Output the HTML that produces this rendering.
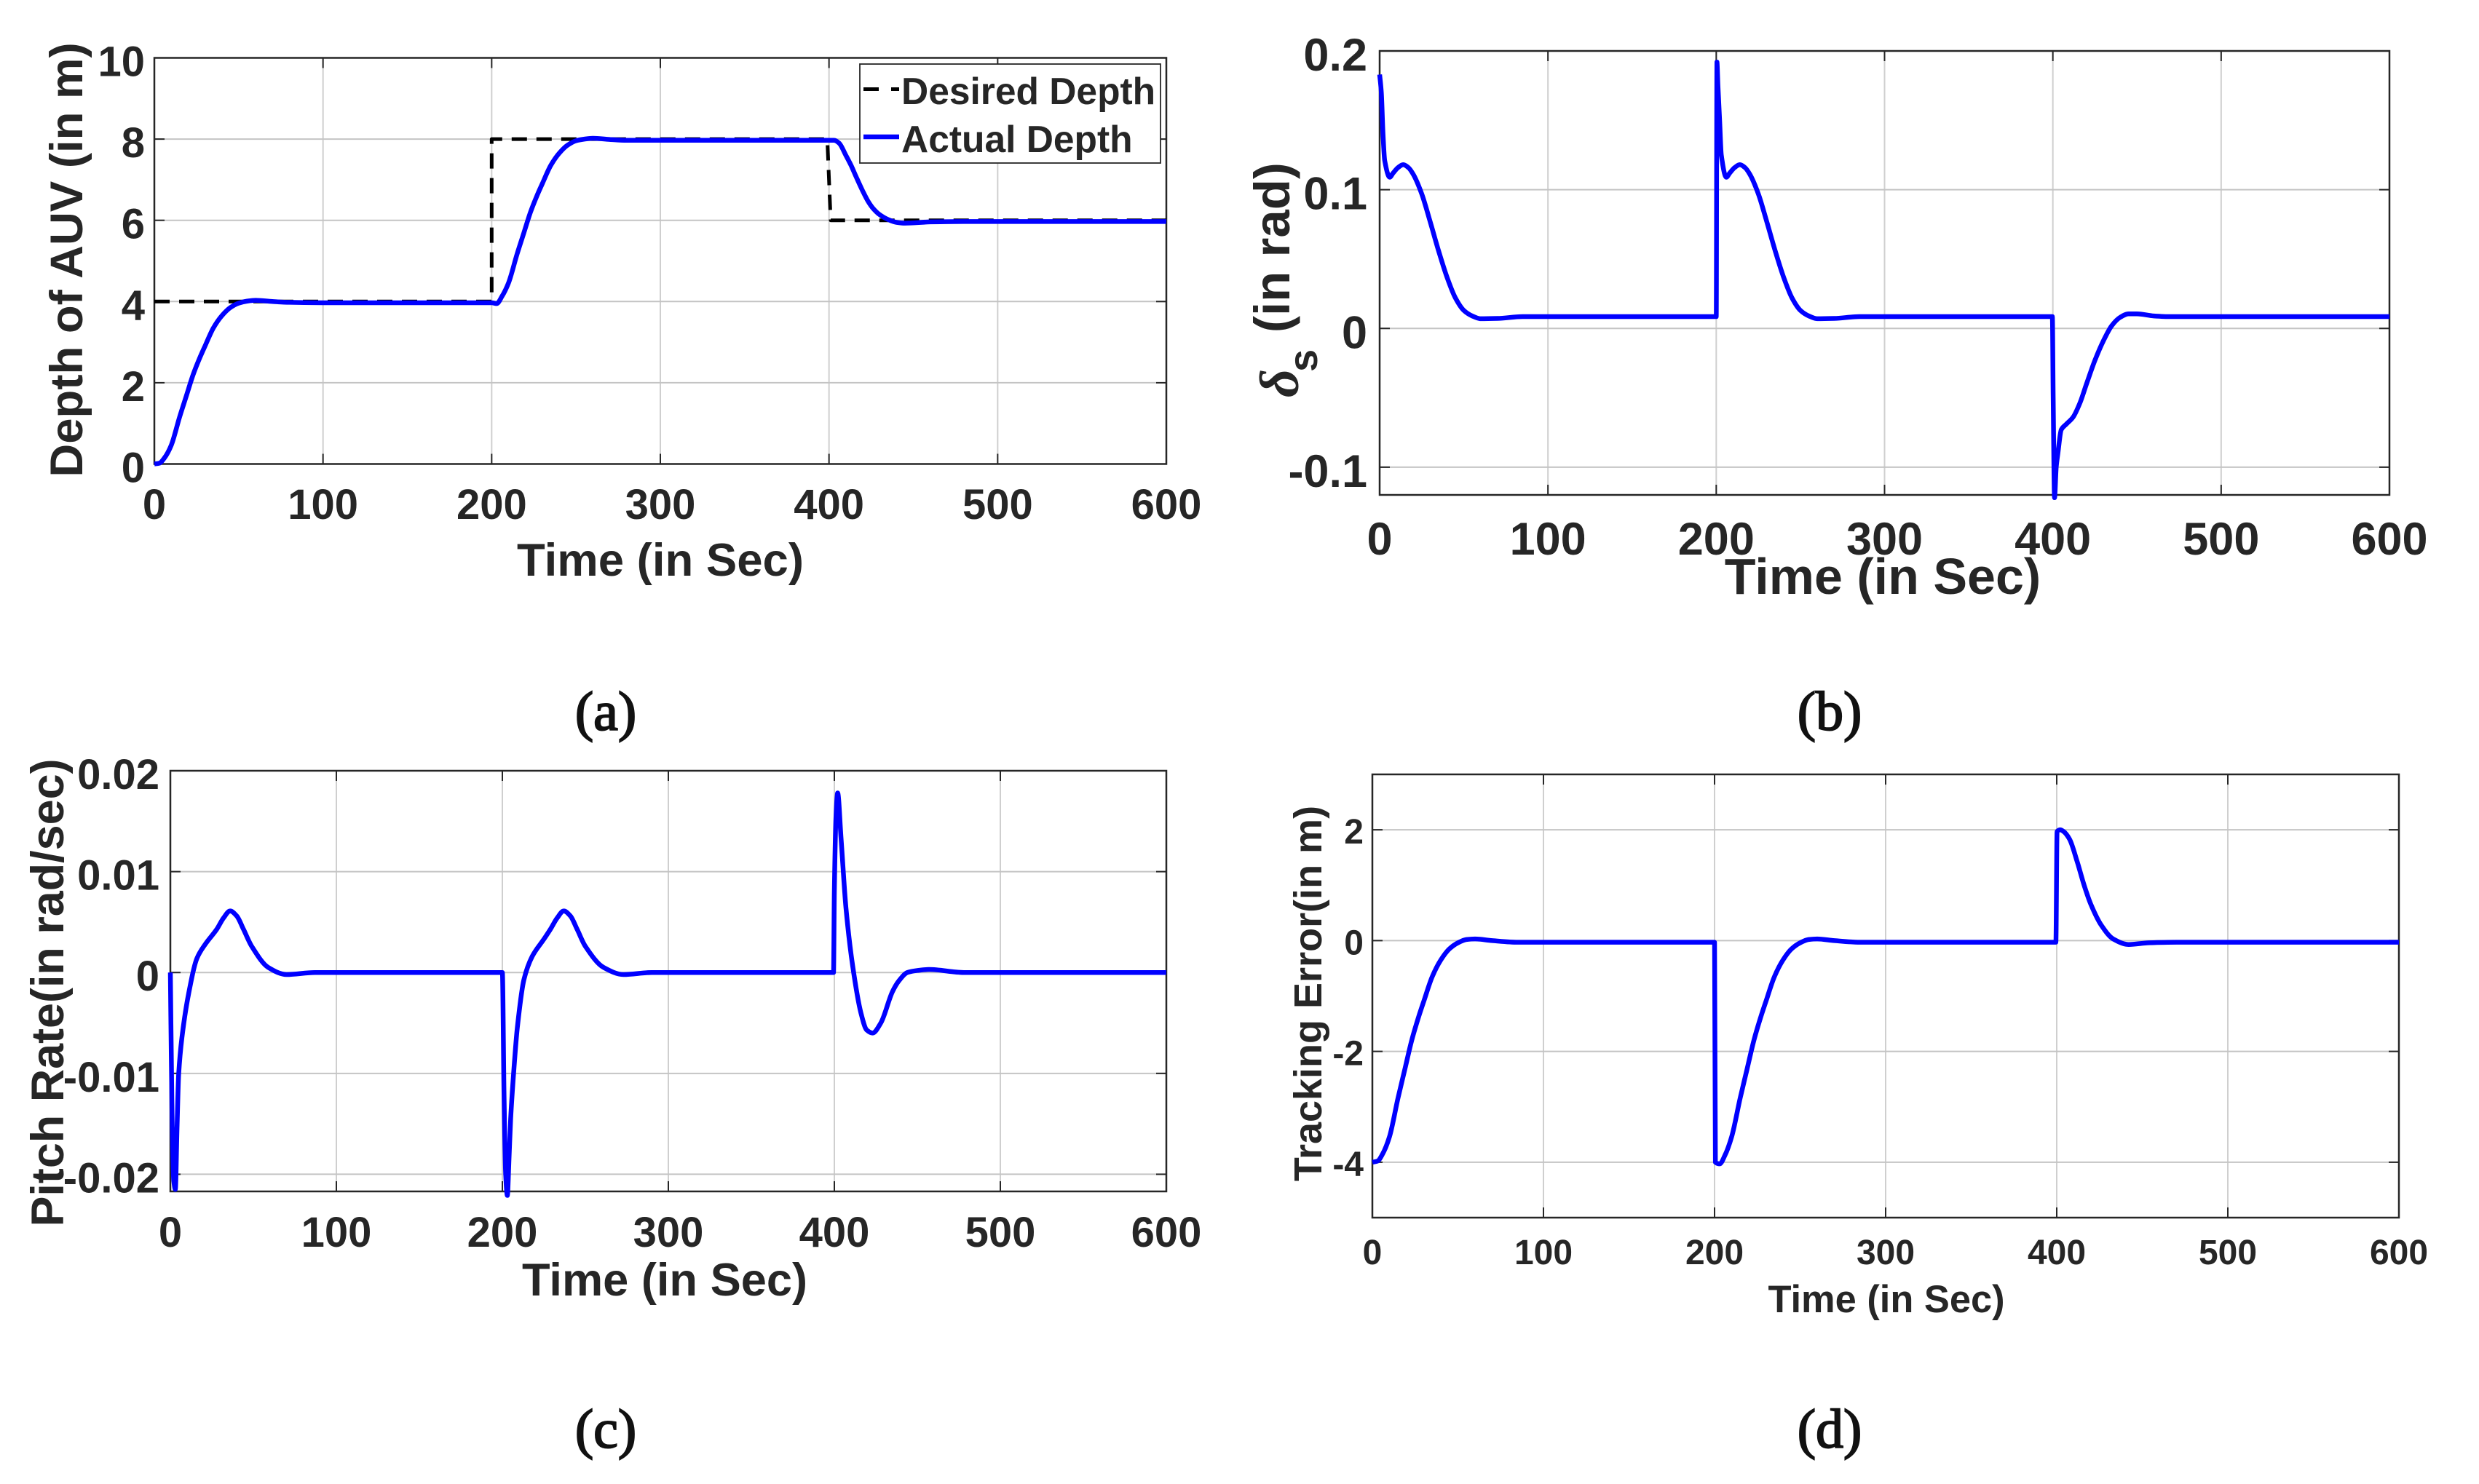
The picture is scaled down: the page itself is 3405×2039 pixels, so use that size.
<!DOCTYPE html>
<html lang="en">
<head>
<meta charset="utf-8">
<title>AUV depth control results</title>
<style>
  html, body { margin: 0; padding: 0; background: #fff; }
  svg { display: block; }
  text { font-family: "Liberation Sans", sans-serif; font-weight: bold; fill: #262626; }
  .caption { font-family: "Liberation Serif", serif; font-weight: normal; fill: #111; stroke: #111; stroke-width: 2; font-size: 76px; text-anchor: middle; }
</style>
</head>
<body>
<svg id="figure" xmlns="http://www.w3.org/2000/svg" width="3405" height="2039" viewBox="0 0 3405 2039">
  <rect x="0" y="0" width="3405" height="2039" fill="#fff"/>
  <g id="panel-a"></g>
  <g id="panel-b"></g>
  <g id="panel-c"></g>
  <g id="panel-d"></g>

  <text x="907" y="791" font-size="63.5" text-anchor="middle">Time (in Sec)</text>
  <text transform="translate(113 357) rotate(-90)" font-size="63.5" text-anchor="middle">Depth of AUV (in m)</text>

  <text x="2586" y="816" font-size="70" text-anchor="middle">Time (in Sec)</text>
  <g>
    <text transform="translate(1771 457) rotate(-90)" font-size="69">(in rad)</text>
    <text transform="translate(1783 546) rotate(-90)" font-size="76" style="font-family:'Liberation Serif',serif;font-style:italic;font-weight:bold">δ</text>
    <text transform="translate(1809 511) rotate(-90)" font-size="56">s</text>
  </g>

  <text x="913" y="1780" font-size="63.2" text-anchor="middle">Time (in Sec)</text>
  <text transform="translate(87 1364) rotate(-90)" font-size="62.9" text-anchor="middle">Pitch Rate(in rad/sec)</text>

  <text x="2591" y="1803" font-size="52.4" text-anchor="middle">Time (in Sec)</text>
  <text transform="translate(1815 1365) rotate(-90)" font-size="54" text-anchor="middle">Tracking Error(in m)</text>

  <text class="caption" x="832" y="1003">(a)</text>
  <text class="caption" x="2513" y="1003">(b)</text>
  <text class="caption" x="832" y="1989">(c)</text>
  <text class="caption" x="2513" y="1989">(d)</text>

  <g>
    <rect id="legend-box" x="1181" y="88" width="413" height="136" fill="#fff" stroke="#262626" stroke-width="1.8"/>
    <line x1="1186" y1="122.5" x2="1235" y2="122.5" stroke="#000" stroke-width="5" stroke-dasharray="21 17"/>
    <text x="1238" y="143" font-size="51.5">Desired Depth</text>
    <line x1="1186" y1="188" x2="1235" y2="188" stroke="#0000ff" stroke-width="6.5"/>
    <text x="1238" y="209" font-size="51.5">Actual Depth</text>
  </g>
</svg>

<script>
// Shared x axis
const timeTicks = [0, 100, 200, 300, 400, 500, 600];
const timeTickLabels = ['0', '100', '200', '300', '400', '500', '600'];

// Panel (a): depth of AUV
const depthTicks = [0, 2, 4, 6, 8, 10];
const depthTickLabels = ['0', '2', '4', '6', '8', '10'];
const desiredTime = [0, 200, 200, 399, 401, 600];
const desiredDepth = [4, 4, 8, 8, 6, 6];
const actualTime = [0, 3, 6, 10, 15, 19, 23, 27, 30, 35, 40, 45, 50, 55, 60, 70, 80, 100, 200, 203, 206, 210, 215, 219, 223, 227, 230, 235, 240, 245, 250, 255, 260, 270, 280, 300, 400, 403, 406, 410, 413, 416, 420, 423, 426, 430, 435, 440, 445, 460, 480, 600];
const actualDepth = [0, 0.02, 0.15, 0.46, 1.16, 1.68, 2.2, 2.62, 2.9, 3.35, 3.65, 3.85, 3.96, 4.01, 4.03, 4.0, 3.98, 3.97, 3.97, 3.95, 4.12, 4.46, 5.16, 5.68, 6.2, 6.62, 6.9, 7.35, 7.65, 7.85, 7.96, 8.0, 8.02, 7.99, 7.97, 7.97, 7.97, 7.97, 7.9, 7.6, 7.36, 7.08, 6.72, 6.48, 6.3, 6.14, 6.02, 5.95, 5.93, 5.96, 5.97, 5.97];

// Panel (b): stern plane deflection
const sternTicks = [-0.1, 0, 0.1, 0.2];
const sternTickLabels = ['-0.1', '0', '0.1', '0.2'];
const sternTime = [0, 1, 2, 3, 6, 8, 11, 14, 17, 20, 25, 30, 35, 40, 45, 50, 55, 60, 70, 85, 200, 200.4, 201, 202, 203, 206, 208, 211, 214, 217, 220, 225, 230, 235, 240, 245, 250, 255, 260, 270, 285, 399.7, 400.2, 401, 402, 403, 405, 408, 412, 416, 420, 425, 430, 435, 440, 445, 450, 460, 470, 600];
const sternValue = [0.183, 0.17, 0.14, 0.121, 0.109, 0.112, 0.116, 0.118, 0.116, 0.111, 0.097, 0.077, 0.056, 0.037, 0.022, 0.013, 0.009, 0.007, 0.0072, 0.0085, 0.0085, 0.192, 0.175, 0.15, 0.125, 0.109, 0.112, 0.116, 0.118, 0.116, 0.111, 0.097, 0.077, 0.056, 0.037, 0.022, 0.013, 0.009, 0.007, 0.0072, 0.0085, 0.0085, -0.05, -0.122, -0.1, -0.09, -0.073, -0.069, -0.064, -0.054, -0.04, -0.023, -0.009, 0.002, 0.008, 0.0105, 0.0105, 0.009, 0.0085, 0.0085];

// Panel (c): pitch rate
const pitchTicks = [-0.02, -0.01, 0, 0.01, 0.02];
const pitchTickLabels = ['-0.02', '-0.01', '0', '0.01', '0.02'];
const pitchTime = [0, 1, 2, 3, 4, 5, 7, 11, 16, 21, 28, 32, 36, 40, 44, 49, 59, 70, 87, 200, 201, 202, 203, 204, 205, 207, 209, 213, 218, 225, 229, 233, 237, 241, 245, 250, 261, 273, 290, 399.5, 400, 401, 402, 404, 407, 411, 416, 419.5, 423, 428, 435, 439, 444, 450, 457, 478, 600];
const pitchRate = [0, -0.014, -0.0205, -0.0215, -0.0155, -0.0101, -0.0064, -0.0021, 0.0014, 0.0028, 0.0043, 0.0054, 0.0061, 0.0056, 0.0043, 0.0026, 0.0005, -0.0002, 0, 0, -0.012, -0.02, -0.0221, -0.0185, -0.0145, -0.0095, -0.0055, -0.0007, 0.0016, 0.0033, 0.0043, 0.0054, 0.0061, 0.0056, 0.0043, 0.0026, 0.0005, -0.0002, 0, 0, 0.008, 0.0155, 0.0178, 0.0134, 0.0064, 0.0007, -0.004, -0.0057, -0.006, -0.005, -0.0019, -0.0008, 0, 0.0002, 0.0003, 0, 0];

// Panel (d): tracking error
const errorTicks = [-4, -2, 0, 2];
const errorTickLabels = ['-4', '-2', '0', '2'];
const errorTime = [0, 3, 6, 10, 15, 19, 23, 27, 30, 35, 40, 45, 50, 55, 60, 70, 85, 200, 200.5, 203, 206, 210, 215, 219, 223, 227, 230, 235, 240, 245, 250, 255, 260, 270, 285, 399.5, 400.2, 402, 404, 407.5, 412, 416, 420, 426, 433, 442, 454, 470, 600];
const errorValue = [-4, -3.98, -3.85, -3.54, -2.84, -2.32, -1.8, -1.38, -1.1, -0.65, -0.35, -0.15, -0.04, 0.02, 0.03, 0, -0.03, -0.03, -4, -4.03, -3.88, -3.54, -2.84, -2.32, -1.8, -1.38, -1.1, -0.65, -0.35, -0.15, -0.04, 0.02, 0.03, 0, -0.03, -0.03, 1.97, 2, 1.97, 1.83, 1.42, 1.0, 0.65, 0.28, 0.03, -0.07, -0.04, -0.03, -0.03];

const SVG_NS = 'http://www.w3.org/2000/svg';

function xAxisScale(box) {
  return function (t) { return box.left + (t - 0) / (600 - 0) * (box.right - box.left); };
}

function yAxisScale(box) {
  return function (v) { return box.bottom - (v - box.yMin) / (box.yMax - box.yMin) * (box.bottom - box.top); };
}

function addLine(parent, x1, y1, x2, y2, stroke, width, name) {
  const el = document.createElementNS(SVG_NS, 'line');
  el.setAttribute('x1', x1);
  el.setAttribute('y1', y1);
  el.setAttribute('x2', x2);
  el.setAttribute('y2', y2);
  el.setAttribute('stroke', stroke);
  el.setAttribute('stroke-width', width);
  
  
  parent.appendChild(el);
}

function addLabel(parent, x, y, text, size, anchor, name) {
  const el = document.createElementNS(SVG_NS, 'text');
  el.setAttribute('x', x);
  el.setAttribute('y', y);
  el.setAttribute('font-size', size);
  el.setAttribute('text-anchor', anchor);
  
  
  el.textContent = text;
  parent.appendChild(el);
}

// Straight segments for step signals.
function stepPath(xs, ys) {
  return xs.map(function (x, i) { return (i ? 'L' : 'M') + x.toFixed(2) + ' ' + ys[i].toFixed(2); }).join(' ');
}

// Monotone cubic through the read-off samples, so the curves stay smooth.
function smoothPath(xs, ys) {
  const n = xs.length;
  const secant = [];
  for (let i = 0; i < n - 1; i++) {
    secant.push((ys[i + 1] - ys[i]) / (xs[i + 1] - xs[i]));
  }
  const slope = [secant[0]];
  for (let i = 1; i < n - 1; i++) {
    const a = secant[i - 1];
    const b = secant[i];
    slope.push(a * b <= 0 ? 0 : 2 * a * b / (a + b));
  }
  slope.push(secant[n - 2]);
  let d = 'M' + xs[0].toFixed(2) + ' ' + ys[0].toFixed(2);
  for (let i = 0; i < n - 1; i++) {
    const h = (xs[i + 1] - xs[i]) / 3;
    d += ' C' + (xs[i] + h).toFixed(2) + ' ' + (ys[i] + slope[i] * h).toFixed(2) +
         ' ' + (xs[i + 1] - h).toFixed(2) + ' ' + (ys[i + 1] - slope[i + 1] * h).toFixed(2) +
         ' ' + xs[i + 1].toFixed(2) + ' ' + ys[i + 1].toFixed(2);
  }
  return d;
}

function addSeries(parent, box, times, values, stroke, width, dash, name) {
  const xs = times.map(xAxisScale(box));
  const ys = values.map(yAxisScale(box));
  const el = document.createElementNS(SVG_NS, 'path');
  el.setAttribute('d', dash ? stepPath(xs, ys) : smoothPath(xs, ys));
  el.setAttribute('fill', 'none');
  el.setAttribute('stroke', stroke);
  el.setAttribute('stroke-width', width);
  el.setAttribute('stroke-linejoin', 'round');
  if (dash) {
    el.setAttribute('stroke-dasharray', dash);
  }
  
  
  parent.appendChild(el);
}

function drawAxes(parent, box, yTicks, yLabels) {
  const sx = xAxisScale(box);
  const sy = yAxisScale(box);
  const tickLen = 14;
  timeTicks.forEach(function (t) {
    addLine(parent, sx(t), box.top, sx(t), box.bottom, '#cfcfcf', 2, 'x-grid-line');
  });
  yTicks.forEach(function (v) {
    addLine(parent, box.left, sy(v), box.right, sy(v), '#c4c4c4', 2, 'y-grid-line');
  });
  timeTicks.forEach(function (t, i) {
    addLine(parent, sx(t), box.bottom, sx(t), box.bottom - tickLen, '#262626', 2, 'x-tick-bottom');
    addLine(parent, sx(t), box.top, sx(t), box.top + tickLen, '#262626', 2, 'x-tick-top');
    addLabel(parent, sx(t), box.xLabelY, timeTickLabels[i], box.font, 'middle', 'x-tick-label');
  });
  yTicks.forEach(function (v, i) {
    addLine(parent, box.left, sy(v), box.left + tickLen, sy(v), '#262626', 2, 'y-tick-left');
    addLine(parent, box.right, sy(v), box.right - tickLen, sy(v), '#262626', 2, 'y-tick-right');
    addLabel(parent, box.yLabelX, sy(v) + box.yLabelDy, yLabels[i], box.font, 'end', 'y-tick-label');
  });
}

function drawFrame(parent, box) {
  const el = document.createElementNS(SVG_NS, 'rect');
  el.setAttribute('x', box.left);
  el.setAttribute('y', box.top);
  el.setAttribute('width', box.right - box.left);
  el.setAttribute('height', box.bottom - box.top);
  el.setAttribute('fill', 'none');
  el.setAttribute('stroke', '#262626');
  el.setAttribute('stroke-width', 2.5);
  
  
  parent.appendChild(el);
}

const boxA = { left: 212, right: 1602, top: 79.5, bottom: 637.5, yMin: 0, yMax: 10, font: 58, xLabelY: 713, yLabelX: 199, yLabelDy: 25 };
const boxB = { left: 1895, right: 3282, top: 70, bottom: 680, yMin: -0.12, yMax: 0.2, font: 63, xLabelY: 762, yLabelX: 1878, yLabelDy: 27 };
const boxC = { left: 234, right: 1602, top: 1059, bottom: 1637, yMin: -0.0217, yMax: 0.02, font: 58, xLabelY: 1713, yLabelX: 219, yLabelDy: 25 };
const boxD = { left: 1885, right: 3295, top: 1064, bottom: 1673, yMin: -5, yMax: 3, font: 48, xLabelY: 1737, yLabelX: 1873, yLabelDy: 19 };

const panelA = document.getElementById('panel-a');
drawAxes(panelA, boxA, depthTicks, depthTickLabels);
drawFrame(panelA, boxA);
addSeries(panelA, boxA, desiredTime, desiredDepth, '#000', 5, '21 13', 'desired-depth-line');
addSeries(panelA, boxA, actualTime, actualDepth, '#0000ff', 6.5, null, 'actual-depth-line');

const panelB = document.getElementById('panel-b');
drawAxes(panelB, boxB, sternTicks, sternTickLabels);
drawFrame(panelB, boxB);
addSeries(panelB, boxB, sternTime, sternValue, '#0000ff', 6.5, null, 'stern-plane-line');

const panelC = document.getElementById('panel-c');
drawAxes(panelC, boxC, pitchTicks, pitchTickLabels);
drawFrame(panelC, boxC);
addSeries(panelC, boxC, pitchTime, pitchRate, '#0000ff', 6.5, null, 'pitch-rate-line');

const panelD = document.getElementById('panel-d');
drawAxes(panelD, boxD, errorTicks, errorTickLabels);
drawFrame(panelD, boxD);
addSeries(panelD, boxD, errorTime, errorValue, '#0000ff', 6.5, null, 'tracking-error-line');
</script>
</body>
</html>
